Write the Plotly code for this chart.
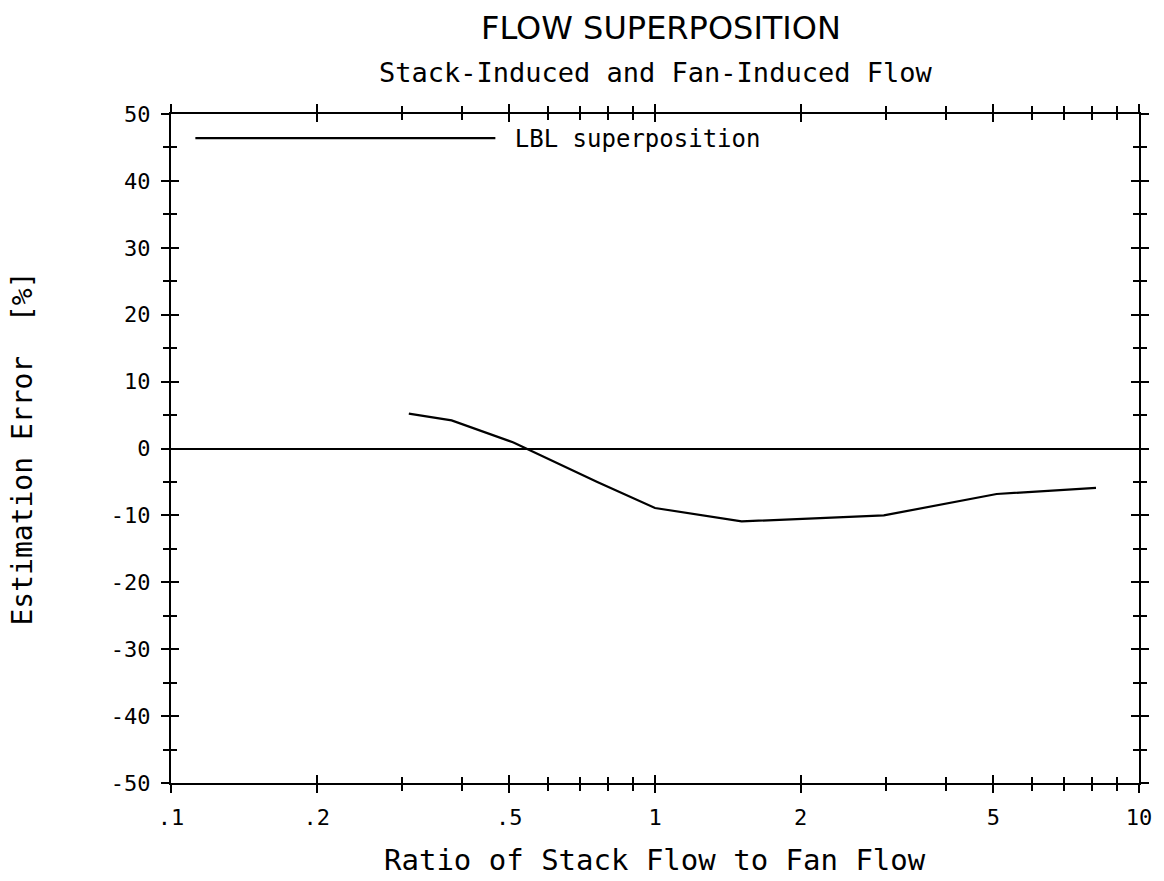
import plotly.graph_objects as go

# Data
ratio = [0.31, 0.38, 0.51, 0.76, 1.0, 1.51, 2.97, 5.08, 8.15]
error = [5.2, 4.2, 0.9, -5.0, -8.9, -10.9, -10.0, -6.8, -5.9]

x_tick_vals = [0.1, 0.2, 0.5, 1, 2, 5, 10]
x_tick_text = [".1", ".2", ".5", "1", "2", "5", "10"]
x_minor_vals = [0.3, 0.4, 0.6, 0.7, 0.8, 0.9, 3, 4, 6, 7, 8, 9]
y_tick_vals = [-50, -40, -30, -20, -10, 0, 10, 20, 30, 40, 50]
y_tick_text = ["-50", "-40", "-30", "-20", "-10", "0", "10", "20", "30", "40", "50"]

SANS = "DejaVu Sans"
MONO = "DejaVu Sans Mono"

fig = go.Figure()
fig.add_trace(go.Scatter(
    x=ratio, y=error, mode="lines", name="\u00a0LBL superposition",
    line=dict(color="black", width=2.2), showlegend=True,
))
# invisible trace on overlay axes so they render (for crossing ticks)
fig.add_trace(go.Scatter(x=[0.1], y=[0], xaxis="x2", yaxis="y2",
                         mode="markers", marker=dict(opacity=0),
                         showlegend=False, hoverinfo="skip"))

common_x = dict(type="log", range=[-1, 1], showgrid=False, zeroline=False,
                showline=True, linecolor="black", linewidth=2, mirror="ticks",
                tickvals=x_tick_vals, tickcolor="black", tickwidth=2, ticklen=8)
common_y = dict(range=[-50, 50], showgrid=False, showline=True, linecolor="black",
                linewidth=2, mirror="ticks", tickvals=y_tick_vals,
                tickcolor="black", tickwidth=2, ticklen=8)

def xminor(side):
    return dict(tickmode="array", tickvals=x_minor_vals, ticklen=6, ticks=side,
                tickwidth=2, tickcolor="black", showgrid=False)

def yminor(side):
    return dict(dtick=5, ticklen=6, ticks=side, tickwidth=2, tickcolor="black",
                showgrid=False)

fig.update_layout(
    width=1164, height=881,
    paper_bgcolor="white", plot_bgcolor="white",
    margin=dict(l=171, r=19, t=114, b=98),
    font=dict(family=MONO, color="black", size=20),
    xaxis=dict(**common_x, ticks="outside", ticktext=x_tick_text,
               minor=xminor("outside"), ticklabelstandoff=6,
               tickfont=dict(size=22, family=MONO)),
    yaxis=dict(**common_y, ticks="outside", ticktext=y_tick_text,
               minor=yminor("outside"), ticklabelstandoff=6,
               zeroline=True, zerolinecolor="black", zerolinewidth=1.5,
               tickfont=dict(size=22, family=MONO)),
    xaxis2=dict(**common_x, ticks="inside", overlaying="x", showticklabels=False,
                minor=xminor("inside")),
    yaxis2=dict(**common_y, ticks="inside", overlaying="y", showticklabels=False,
                zeroline=False, minor=yminor("inside")),
    legend=dict(x=0.02, y=0.997, xanchor="left", yanchor="top",
                bgcolor="rgba(0,0,0,0)", font=dict(size=24, family=MONO),
                itemwidth=300),
    annotations=[
        dict(text="FLOW SUPERPOSITION", xref="paper", yref="paper", x=0.5, y=1,
             xanchor="center", yanchor="middle", yshift=86, xshift=6,
             showarrow=False, font=dict(size=32, family=SANS)),
        dict(text="Stack-Induced and Fan-Induced Flow", xref="paper", yref="paper",
             x=0.5, y=1, xanchor="center", yanchor="middle", yshift=42,
             showarrow=False, font=dict(size=27, family=MONO)),
        dict(text="Ratio of Stack Flow to Fan Flow", xref="paper", yref="paper",
             x=0.5, y=0, xanchor="center", yanchor="middle", yshift=-77,
             showarrow=False, font=dict(size=29, family=MONO)),
        dict(text="Estimation Error  [%]", xref="paper", yref="paper",
             x=0, y=0.5, xanchor="center", yanchor="middle", xshift=-149,
             textangle=-90, showarrow=False, font=dict(size=28, family=MONO)),
    ],
)

fig.write_html("out.html")
